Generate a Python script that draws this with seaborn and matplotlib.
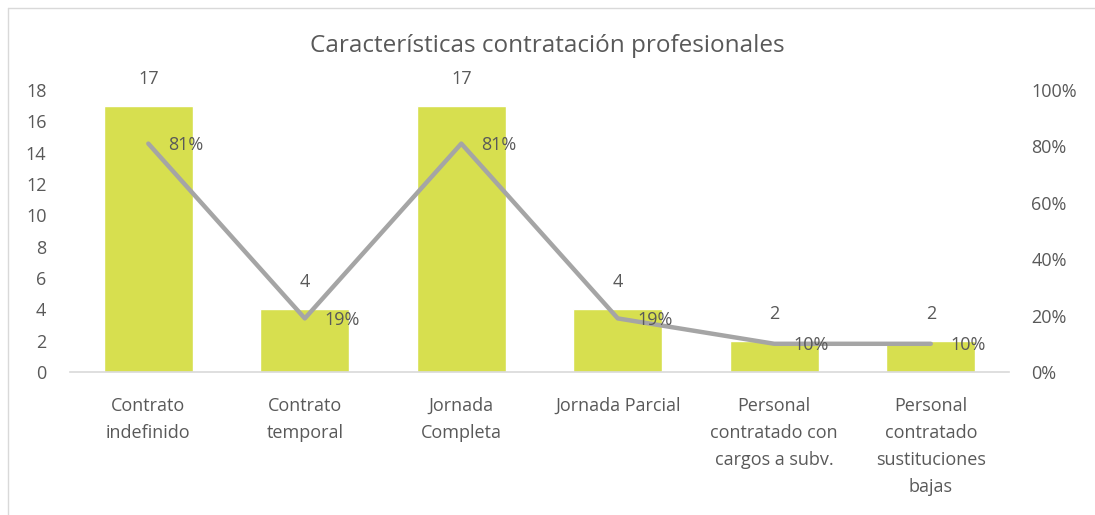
import matplotlib
matplotlib.use("Agg")
import matplotlib.pyplot as plt
import seaborn as sns
import pandas as pd
from matplotlib.lines import Line2D

categories = ["Contrato\nindefinido", "Contrato\ntemporal", "Jornada\nCompleta",
              "Jornada Parcial", "Personal\ncontratado con\ncargos a subv.",
              "Personal\ncontratado\nsustituciones\nbajas"]
counts = [17, 4, 17, 4, 2, 2]
percents = [0.81, 0.19, 0.81, 0.19, 0.10, 0.10]
left_ticks = [0, 2, 4, 6, 8, 10, 12, 14, 16, 18]
right_ticks = [0, 0.2, 0.4, 0.6, 0.8, 1.0]
title = "Características contratación profesionales"

sns.set_theme(style="white")
plt.rcParams['font.family'] = ['Open Sans', 'DejaVu Sans']
txt = "#595959"
fs = 13

df = pd.DataFrame({"cat": categories, "n": counts, "p": percents})

fig = plt.figure(figsize=(10.95, 5.15), dpi=100)
ax = fig.add_axes([0.064, 0.2777, 0.8575, 0.5475])
sns.barplot(data=df, x="cat", y="n", color="#D7DF4F", saturation=1, width=0.57, ax=ax)
ax.set_ylim(0, 18)
ax.set_xlim(-0.5, len(categories) - 0.5)
ax.set_yticks(left_ticks)
ax.set_xlabel("")
ax.set_ylabel("")
for s in ["top", "right", "left"]:
    ax.spines[s].set_visible(False)
ax.spines["bottom"].set_color("#D9D9D9")
ax.spines["bottom"].set_linewidth(1.2)
ax.tick_params(axis="y", length=0, pad=17, labelsize=fs, labelcolor=txt)
ax.tick_params(axis="x", length=0, pad=18, labelsize=fs, labelcolor=txt)
for lab in ax.get_xticklabels():
    lab.set_linespacing(1.65)
    lab.set_verticalalignment("top")

for i, v in enumerate(counts):
    ax.annotate(str(v), (i, v), xytext=(0, 13), textcoords="offset points",
                ha="center", va="bottom", fontsize=fs, color=txt)

ax2 = ax.twinx()
sns.lineplot(x=list(range(len(categories))), y=percents, ax=ax2, color="#A5A5A5",
             linewidth=3.2, solid_capstyle="round")
ax2.set_ylim(0, 1)
ax2.set_yticks(right_ticks)
ax2.set_yticklabels([f"{int(round(t*100))}%" for t in right_ticks])
ax2.tick_params(axis="y", length=0, pad=16, labelsize=fs, labelcolor=txt)
for s in ["top", "right", "left", "bottom"]:
    ax2.spines[s].set_visible(False)
ax2.set_ylabel("")
for i, p in enumerate(percents):
    ax2.annotate(f"{int(round(p*100))}%", (i, p), xytext=(14, -1), textcoords="offset points",
                 ha="left", va="center", fontsize=fs, color=txt)

fig.text(0.5, 0.91, title, ha="center", va="center", fontsize=17.5, color=txt)
x0 = 8 / 1095
y0 = 1 - 8 / 515
fig.add_artist(Line2D([x0, 1], [y0, y0], transform=fig.transFigure, color="#D9D9D9", lw=1))
fig.add_artist(Line2D([x0, x0], [0, y0], transform=fig.transFigure, color="#D9D9D9", lw=1))

fig.savefig("out.png", dpi=100)
